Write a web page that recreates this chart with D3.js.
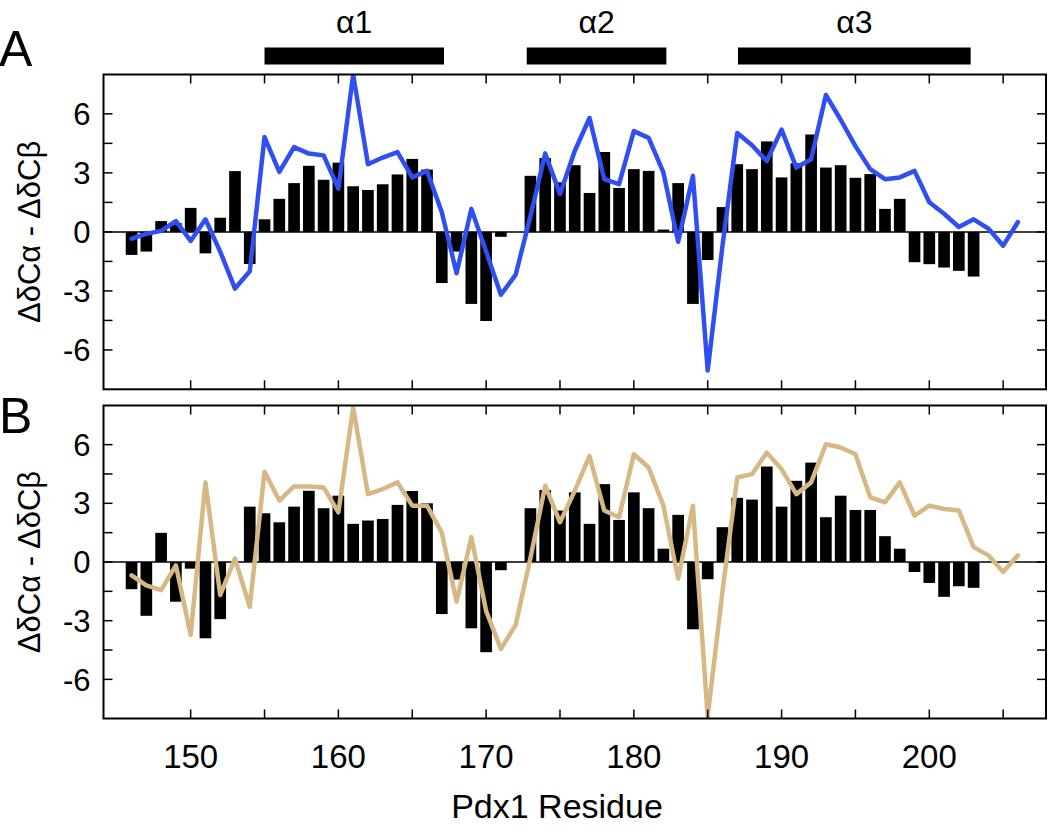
<!DOCTYPE html>
<html><head><meta charset="utf-8">
<script src="https://cdn.jsdelivr.net/npm/d3@7"></script>
<style>
html,body{margin:0;padding:0;background:#fff;}
svg{display:block;font-family:"Liberation Sans",Arial,Helvetica,sans-serif;}
</style></head>
<body>
<svg id="chart" width="1050" height="834"></svg>
<script>
// ---- data ----
const barResidues = d3.range(146, 204);          // 146..203
const lineResidues = d3.range(146, 207);         // 146..206

const barsA = [-1.17,-1.0,0.55,0.45,1.22,-1.09,0.72,3.09,-1.63,0.64,1.68,2.48,3.36,2.65,3.52,2.32,2.13,2.42,2.92,3.71,3.17,-2.6,-1.0,-3.66,-4.53,-0.25,null,2.85,3.75,2.52,3.39,1.98,4.06,2.23,3.19,3.1,0.12,2.48,-3.66,-1.43,1.26,3.44,3.19,4.6,2.77,3.49,4.95,3.27,3.39,2.75,2.94,1.17,1.68,-1.54,-1.64,-1.81,-1.98,-2.27];
const lineA = [-0.34,-0.1,0.05,0.55,-0.46,0.64,-1.0,-2.88,-2.0,4.82,3.05,4.31,3.98,3.89,2.2,8.0,3.44,3.78,4.06,2.77,3.1,1.0,-2.1,1.17,-1.0,-3.19,-2.18,0.8,3.99,1.93,4.11,5.79,2.68,2.43,5.12,4.78,3.02,-0.5,2.85,-7.05,-0.7,5.03,4.4,3.6,5.2,3.27,3.69,6.96,5.7,4.36,3.19,2.68,2.77,3.1,1.51,0.92,0.25,0.64,0.17,-0.7,0.5];

const barsB = [-1.39,-2.75,1.49,-2.03,-0.34,-3.9,-2.92,null,2.83,2.49,2.03,2.83,3.64,2.75,3.39,1.95,2.12,2.2,2.92,3.63,3.0,-2.66,-0.9,-3.39,-4.61,-0.42,null,2.75,3.68,2.63,3.56,1.95,3.98,2.15,3.56,2.75,0.68,2.41,-3.44,-0.88,1.78,3.28,3.19,4.88,2.83,4.15,5.08,2.29,3.39,2.66,2.66,1.32,0.68,-0.51,-1.07,-1.78,-1.24,-1.32];
const lineB = [-0.68,-1.19,-1.44,-0.17,-3.73,4.07,-1.69,0.17,-2.29,4.61,3.14,3.86,3.86,3.81,2.54,7.9,3.47,3.73,4.07,2.88,2.88,1.5,-2.03,1.27,-2.5,-4.44,-3.22,0.2,3.9,2.03,3.64,5.42,2.63,2.29,5.51,4.83,2.88,-0.85,2.88,-7.9,-1.5,4.32,4.49,5.59,4.75,3.47,4.07,6.02,5.85,5.51,3.31,3.05,4.07,2.37,2.88,2.71,2.63,0.76,0.34,-0.51,0.34];

const helixNames = ["α1", "α2", "α3"];
const helixStart = [155.0, 172.75, 187.05];
const helixEnd   = [167.15, 182.2, 202.8];

const xTickValues = [150,155,160,165,170,175,180,185,190,195,200,205];
const xTickLabels = ["150","","160","","170","","180","","190","","200",""];
const yTickValues = [-6,-4.5,-3,-1.5,0,1.5,3,4.5,6];
const yTickLabels = ["-6","","-3","","0","","3","","6"];

const panelLetters = ["A", "B"];
const yAxisTitle = "ΔδCα - ΔδCβ";
const xAxisTitle = "Pdx1 Residue";

// ---- layout ----
const svg = d3.select("#chart");
const x = d3.scaleLinear().domain([144.1, 207.9]).range([103.5, 1046]);
const panels = [
  {bars: barsA, line: lineA, color: "#2f4ff2", top: 74.5, bottom: 389.3},
  {bars: barsB, line: lineB, color: "#d6b885", top: 405.5, bottom: 718.5}
];
const barW = (x(1) - x(0)) * 0.79;
const tickLen = 9;

panels.forEach((p, i) => {
  const y = d3.scaleLinear().domain([-8, 8]).range([p.bottom, p.top]);
  const g = svg.append("g");
  const clipId = "clip" + i;
  svg.append("clipPath").attr("id", clipId).append("rect")
    .attr("x", x.range()[0]).attr("y", p.top)
    .attr("width", x.range()[1] - x.range()[0]).attr("height", p.bottom - p.top);

  const bd = barResidues.map((r, k) => ({r, v: p.bars[k]})).filter(d => d.v !== null);
  g.append("g").selectAll("rect").data(bd).join("rect")
    .attr("x", d => x(d.r) - barW / 2)
    .attr("width", barW)
    .attr("y", d => y(Math.max(0, d.v)))
    .attr("height", d => Math.abs(y(d.v) - y(0)))
    .attr("fill", "#000");

  // zero line
  g.append("line").attr("x1", x.range()[0]).attr("x2", x.range()[1])
    .attr("y1", y(0)).attr("y2", y(0)).attr("stroke", "#000").attr("stroke-width", 1.5);

  // line
  const ld = lineResidues.map((r, k) => ({r, v: p.line[k]}));
  g.append("path").datum(ld)
    .attr("clip-path", `url(#${clipId})`)
    .attr("d", d3.line().x(d => x(d.r)).y(d => y(d.v)))
    .attr("fill", "none").attr("stroke", p.color)
    .attr("stroke-width", 4.5).attr("stroke-linejoin", "round").attr("stroke-linecap", "round");

  // frame
  g.append("rect").attr("x", x.range()[0]).attr("y", p.top)
    .attr("width", x.range()[1] - x.range()[0]).attr("height", p.bottom - p.top)
    .attr("fill", "none").attr("stroke", "#000").attr("stroke-width", 2);

  // x ticks (top & bottom, inward)
  xTickValues.forEach(t => {
    g.append("line").attr("x1", x(t)).attr("x2", x(t)).attr("y1", p.bottom).attr("y2", p.bottom - tickLen)
      .attr("stroke", "#000").attr("stroke-width", 1.5);
    g.append("line").attr("x1", x(t)).attr("x2", x(t)).attr("y1", p.top).attr("y2", p.top + tickLen)
      .attr("stroke", "#000").attr("stroke-width", 1.5);
  });
  // y ticks (left & right, inward)
  yTickValues.forEach((t, k) => {
    g.append("line").attr("x1", x.range()[0]).attr("x2", x.range()[0] + tickLen).attr("y1", y(t)).attr("y2", y(t))
      .attr("stroke", "#000").attr("stroke-width", 1.5);
    g.append("line").attr("x1", x.range()[1]).attr("x2", x.range()[1] - tickLen).attr("y1", y(t)).attr("y2", y(t))
      .attr("stroke", "#000").attr("stroke-width", 1.5);
    if (yTickLabels[k]) {
      g.append("text").attr("x", x.range()[0] - 13).attr("y", y(t)).attr("dy", "0.36em")
        .attr("text-anchor", "end").attr("font-size", 31).text(yTickLabels[k]);
    }
  });

  // y axis title
  g.append("text")
    .attr("transform", `translate(40,${(p.top + p.bottom) / 2}) rotate(-90)`)
    .attr("text-anchor", "middle").attr("font-size", 31).text(yAxisTitle);

  // panel letter
  g.append("text").attr("x", -1).attr("y", i === 0 ? 66 : 433)
    .attr("font-size", 50).text(panelLetters[i]);

  if (i === 1) {
    xTickValues.forEach((t, k) => {
      if (xTickLabels[k]) g.append("text").attr("x", x(t)).attr("y", 768)
        .attr("text-anchor", "middle").attr("font-size", 33).text(xTickLabels[k]);
    });
  }
});

// helix bars
helixNames.forEach((n, k) => {
  svg.append("rect").attr("x", x(helixStart[k])).attr("y", 47.5)
    .attr("width", x(helixEnd[k]) - x(helixStart[k])).attr("height", 17).attr("fill", "#000");
  svg.append("text").attr("x", (x(helixStart[k]) + x(helixEnd[k])) / 2).attr("y", 33)
    .attr("text-anchor", "middle").attr("font-size", 32).text(n);
});

// x axis title
svg.append("text").attr("x", 557).attr("y", 818).attr("text-anchor", "middle")
  .attr("font-size", 34).text(xAxisTitle);
</script>
</body></html>
